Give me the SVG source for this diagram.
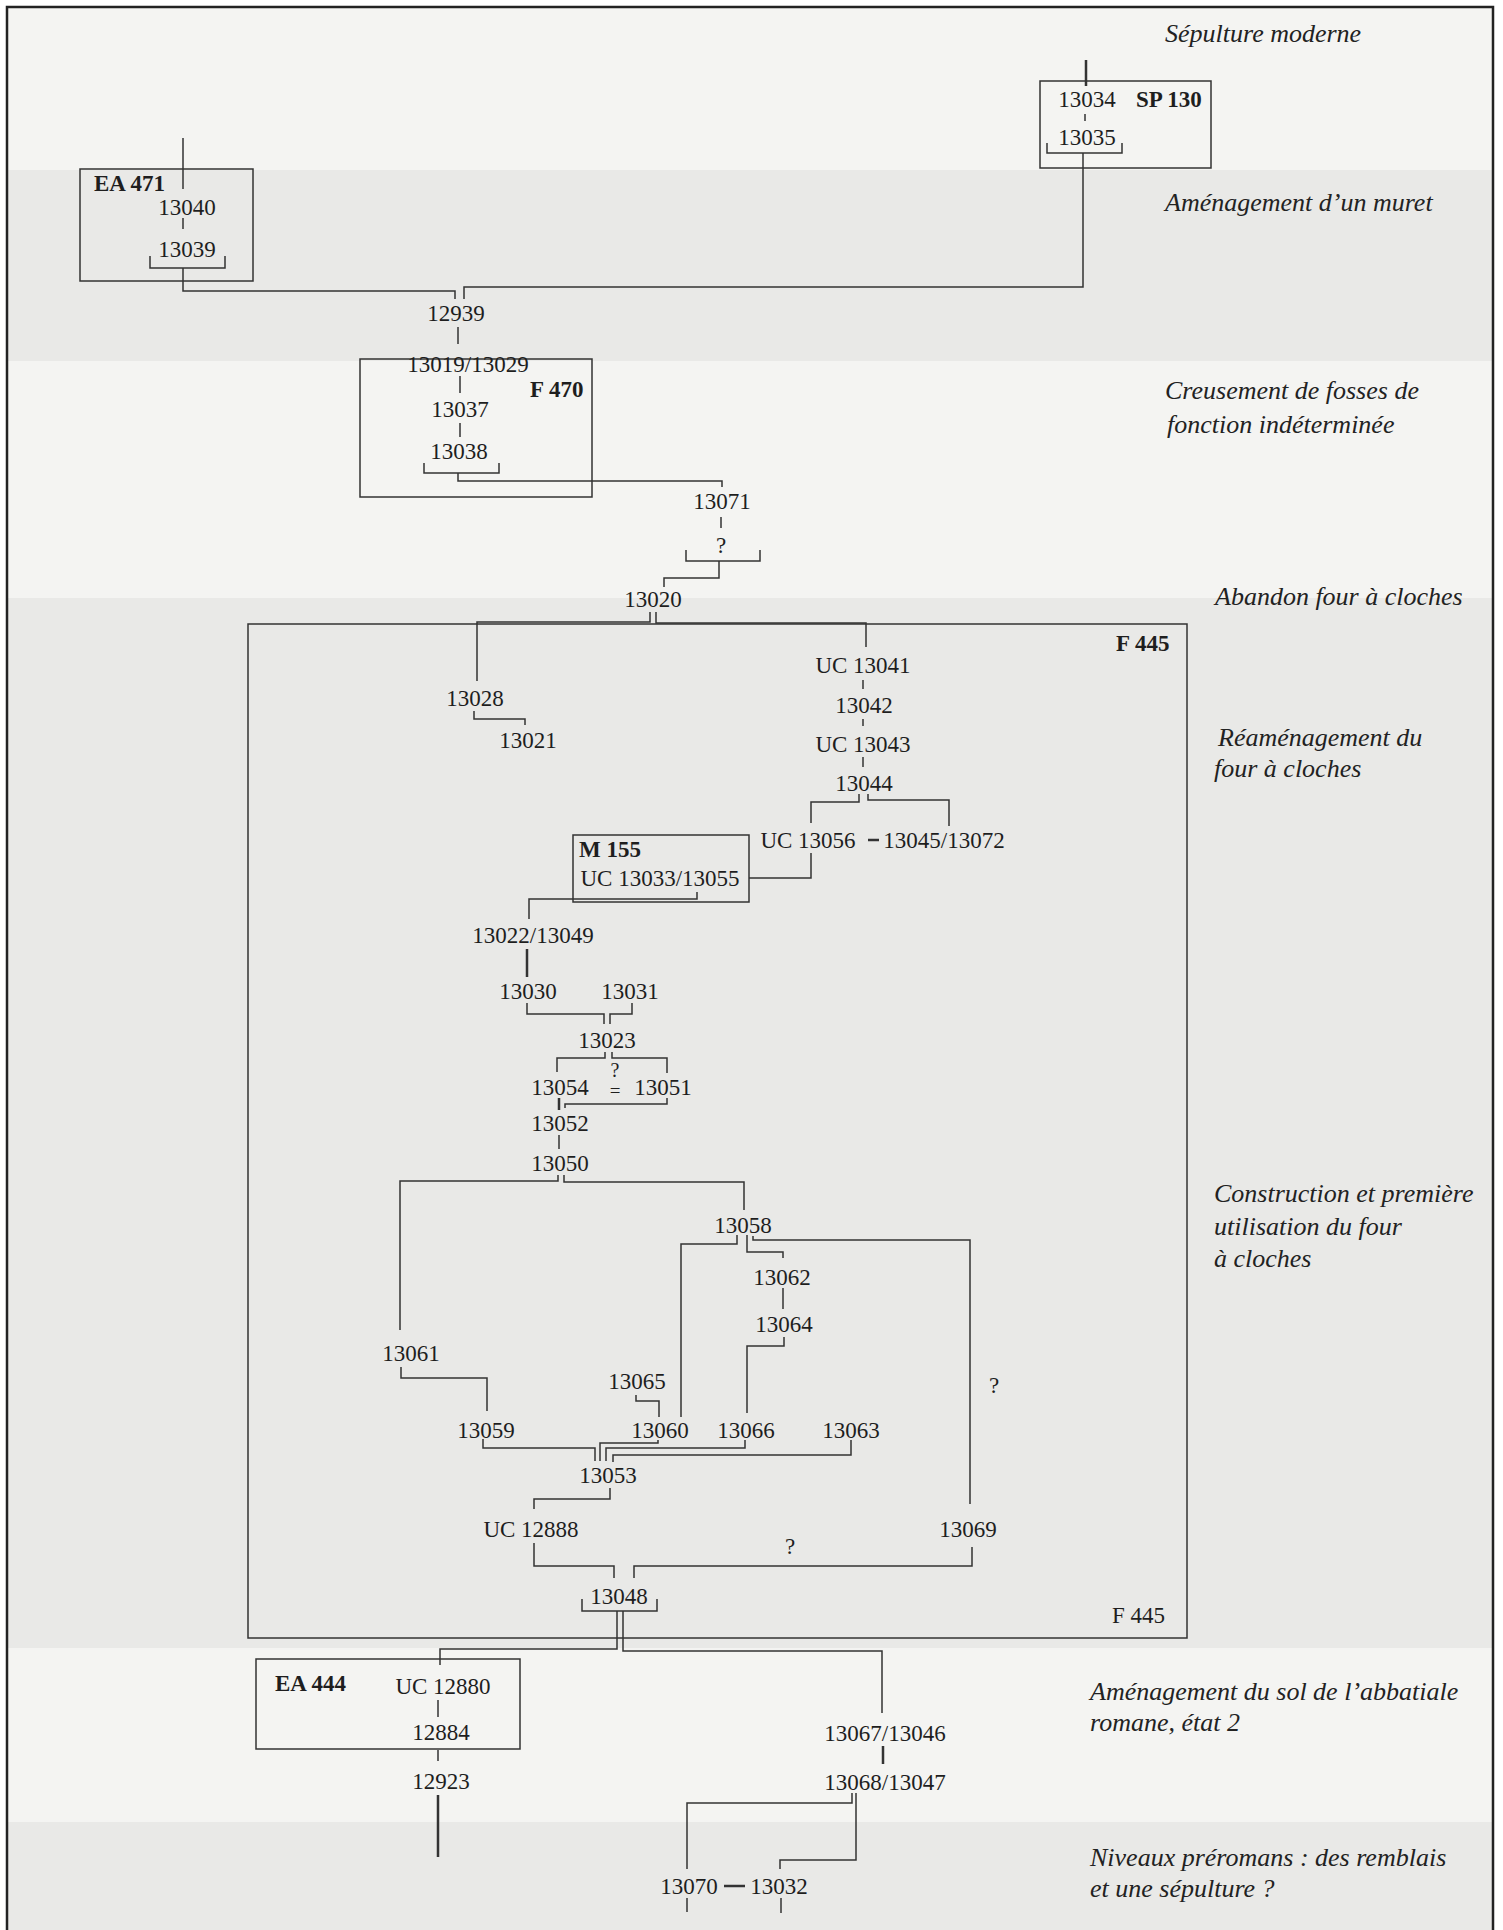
<svg xmlns="http://www.w3.org/2000/svg" width="1503" height="1930" viewBox="0 0 1503 1930">
<style>
.n{font-family:"Liberation Serif","Times New Roman",serif;font-size:23px;fill:#1e1e1e;text-anchor:middle}
.b{font-family:"Liberation Serif","Times New Roman",serif;font-size:23px;font-weight:bold;fill:#1e1e1e}
.r{font-family:"Liberation Serif","Times New Roman",serif;font-size:23px;fill:#1e1e1e}
.p{font-family:"Liberation Serif","Times New Roman",serif;font-size:26px;font-style:italic;fill:#222}
.c path{fill:none;stroke:#333;stroke-width:1.5}
.c .t{stroke-width:2.5}
.box{fill:none;stroke:#333;stroke-width:1.5}
</style>
<g id="bands">
<rect x="7" y="7" width="1486" height="163" fill="#f4f4f2"/>
<rect x="7" y="170" width="1486" height="191" fill="#e9e9e7"/>
<rect x="7" y="361" width="1486" height="237" fill="#f4f4f2"/>
<rect x="7" y="598" width="1486" height="1050" fill="#e9e9e7"/>
<rect x="7" y="1648" width="1486" height="174" fill="#f4f4f2"/>
<rect x="7" y="1822" width="1486" height="108" fill="#e9e9e7"/>
<path d="M7,1930 V7 H1493 V1930" fill="none" stroke="#222" stroke-width="2.5"/>
</g>
<g id="phase-labels">
<text class="p" x="1165" y="42">Sépulture moderne</text>
<text class="p" x="1165" y="211">Aménagement d’un muret</text>
<text class="p" x="1165" y="399">Creusement de fosses de</text>
<text class="p" x="1167" y="433">fonction indéterminée</text>
<text class="p" x="1215" y="605">Abandon four à cloches</text>
<text class="p" x="1218" y="746">Réaménagement du</text>
<text class="p" x="1214" y="777">four à cloches</text>
<text class="p" x="1214" y="1202">Construction et première</text>
<text class="p" x="1214" y="1235">utilisation du four</text>
<text class="p" x="1214" y="1267">à cloches</text>
<text class="p" x="1090" y="1700">Aménagement du sol de l’abbatiale</text>
<text class="p" x="1090" y="1731">romane, état 2</text>
<text class="p" x="1090" y="1866">Niveaux préromans : des remblais</text>
<text class="p" x="1090" y="1897">et une sépulture ?</text>
</g>
<g id="groups">
<g id="sp130"><rect class="box" x="1040" y="81" width="171" height="87"/><text class="b" x="1136" y="107">SP 130</text></g>
<g id="ea471"><rect class="box" x="80" y="169" width="173" height="112"/><text class="b" x="94" y="191">EA 471</text></g>
<g id="f470"><rect class="box" x="360" y="359" width="232" height="138"/><text class="b" x="530" y="397">F 470</text></g>
<g id="f445"><rect class="box" x="248" y="624" width="939" height="1014"/><text class="b" x="1116" y="651">F 445</text><text class="r" x="1112" y="1623">F 445</text></g>
<g id="m155"><rect class="box" x="573" y="835" width="176" height="67"/><text class="b" x="579" y="857">M 155</text></g>
<g id="ea444"><rect class="box" x="256" y="1659" width="264" height="90"/><text class="b" x="275" y="1691">EA 444</text></g>
</g>
<g id="connectors" class="c">
<path class="t" d="M1086,60 V86"/>
<path d="M1085,114 V121"/>
<path d="M1047,143 V153 H1122 V143"/>
<path d="M1083,153 V287 H464 V299"/>
<path d="M183,138 V189"/>
<path d="M183,218 V229"/>
<path d="M150,256 V268 H225 V256"/>
<path d="M183,268 V291 H455 V299"/>
<path d="M458,327 V344"/>
<path d="M460,376 V393"/>
<path d="M460,423 V437"/>
<path d="M424,463 V473 H499 V463"/>
<path d="M458,473 V481 H722 V487"/>
<path d="M721,517 V528"/>
<path d="M686,550 V561 H760 V550"/>
<path d="M719,561 V578 H664 V587"/>
<path d="M650,612 V622 H477 V681"/>
<path d="M656,612 V623 H866 V647"/>
<path d="M474,711 V719 H525 V725"/>
<path d="M863,680 V689"/>
<path d="M863,719 V726"/>
<path d="M863,757 V767"/>
<path d="M859,794 V802 H811 V823"/>
<path d="M868,794 V800 H949 V826"/>
<path class="t" d="M868,840 H879"/>
<path d="M811,853 V878 H749"/>
<path d="M697,892 V899 H529 V919"/>
<path class="t" d="M527,949 V977"/>
<path d="M527,1003 V1014 H604 V1024"/>
<path d="M632,1003 V1014 H610 V1024"/>
<path d="M605,1052 V1058 H557 V1072"/>
<path d="M612,1052 V1058 H667 V1073"/>
<path class="t" d="M559,1098 V1110"/>
<path d="M667,1098 V1104 H565 V1108"/>
<path d="M559,1135 V1149"/>
<path d="M558,1175 V1181 H400 V1330"/>
<path d="M564,1175 V1182 H744 V1210"/>
<path d="M737,1235 V1244 H681 V1417"/>
<path d="M747,1235 V1252 H783 V1258"/>
<path d="M753,1236 V1240 H970 V1504"/>
<path d="M783,1288 V1309"/>
<path d="M784,1337 V1346 H747 V1413"/>
<path d="M401,1367 V1378 H487 V1411"/>
<path d="M636,1395 V1401 H659 V1417"/>
<path d="M483,1439 V1448 H595 V1461"/>
<path d="M658,1440 V1443 H600 V1461"/>
<path d="M745,1440 V1448 H606 V1461"/>
<path d="M851,1440 V1455 H613 V1462"/>
<path d="M610,1488 V1499 H534 V1509"/>
<path d="M534,1543 V1566 H614 V1578"/>
<path d="M972,1547 V1566 H634 V1578"/>
<path d="M582,1599 V1611 H657 V1599"/>
<path d="M617,1611 V1649 H440 V1665"/>
<path d="M623,1611 V1651 H882 V1713"/>
<path d="M438,1700 V1717"/>
<path d="M438,1750 V1761"/>
<path class="t" d="M438,1795 V1857"/>
<path class="t" d="M883,1746 V1764"/>
<path d="M852,1793 V1803 H687 V1869"/>
<path d="M856,1793 V1860 H780 V1869"/>
<path class="t" d="M724,1886 H745"/>
<path d="M687,1898 V1912"/>
<path d="M781,1898 V1913"/>
</g>
<g id="nodes">
<g id="n13034"><text class="n" x="1087" y="107">13034</text></g>
<g id="n13035"><text class="n" x="1087" y="145">13035</text></g>
<g id="n13040"><text class="n" x="187" y="215">13040</text></g>
<g id="n13039"><text class="n" x="187" y="257">13039</text></g>
<g id="n12939"><text class="n" x="456" y="321">12939</text></g>
<g id="n13019"><text class="n" x="468" y="372">13019/13029</text></g>
<g id="n13037"><text class="n" x="460" y="417">13037</text></g>
<g id="n13038"><text class="n" x="459" y="459">13038</text></g>
<g id="n13071"><text class="n" x="722" y="509">13071</text></g>
<g id="nq1"><text class="n" x="721" y="553">?</text></g>
<g id="n13020"><text class="n" x="653" y="607">13020</text></g>
<g id="n13028"><text class="n" x="475" y="706">13028</text></g>
<g id="n13021"><text class="n" x="528" y="748">13021</text></g>
<g id="n13041"><text class="n" x="863" y="673">UC 13041</text></g>
<g id="n13042"><text class="n" x="864" y="713">13042</text></g>
<g id="n13043"><text class="n" x="863" y="752">UC 13043</text></g>
<g id="n13044"><text class="n" x="864" y="791">13044</text></g>
<g id="n13056"><text class="n" x="808" y="848">UC 13056</text></g>
<g id="n13045"><text class="n" x="944" y="848">13045/13072</text></g>
<g id="n13033"><text class="n" x="660" y="886">UC 13033/13055</text></g>
<g id="n13022"><text class="n" x="533" y="943">13022/13049</text></g>
<g id="n13030"><text class="n" x="528" y="999">13030</text></g>
<g id="n13031"><text class="n" x="630" y="999">13031</text></g>
<g id="n13023"><text class="n" x="607" y="1048">13023</text></g>
<g id="n13054"><text class="n" x="560" y="1095">13054</text></g>
<g id="neq"><text class="n" x="615" y="1077" style="font-size:20px">?</text><text class="n" x="615" y="1097" style="font-size:19px">=</text></g>
<g id="n13051"><text class="n" x="663" y="1095">13051</text></g>
<g id="n13052"><text class="n" x="560" y="1131">13052</text></g>
<g id="n13050"><text class="n" x="560" y="1171">13050</text></g>
<g id="n13058"><text class="n" x="743" y="1233">13058</text></g>
<g id="n13062"><text class="n" x="782" y="1285">13062</text></g>
<g id="n13064"><text class="n" x="784" y="1332">13064</text></g>
<g id="n13061"><text class="n" x="411" y="1361">13061</text></g>
<g id="n13065"><text class="n" x="637" y="1389">13065</text></g>
<g id="nq2"><text class="n" x="994" y="1393">?</text></g>
<g id="n13059"><text class="n" x="486" y="1438">13059</text></g>
<g id="n13060"><text class="n" x="660" y="1438">13060</text></g>
<g id="n13066"><text class="n" x="746" y="1438">13066</text></g>
<g id="n13063"><text class="n" x="851" y="1438">13063</text></g>
<g id="n13053"><text class="n" x="608" y="1483">13053</text></g>
<g id="n12888"><text class="n" x="531" y="1537">UC 12888</text></g>
<g id="n13069"><text class="n" x="968" y="1537">13069</text></g>
<g id="nq3"><text class="n" x="790" y="1554">?</text></g>
<g id="n13048"><text class="n" x="619" y="1604">13048</text></g>
<g id="n12880"><text class="n" x="443" y="1694">UC 12880</text></g>
<g id="n12884"><text class="n" x="441" y="1740">12884</text></g>
<g id="n12923"><text class="n" x="441" y="1789">12923</text></g>
<g id="n13067"><text class="n" x="885" y="1741">13067/13046</text></g>
<g id="n13068"><text class="n" x="885" y="1790">13068/13047</text></g>
<g id="n13070"><text class="n" x="689" y="1894">13070</text></g>
<g id="n13032"><text class="n" x="779" y="1894">13032</text></g>
</g>
</svg>
